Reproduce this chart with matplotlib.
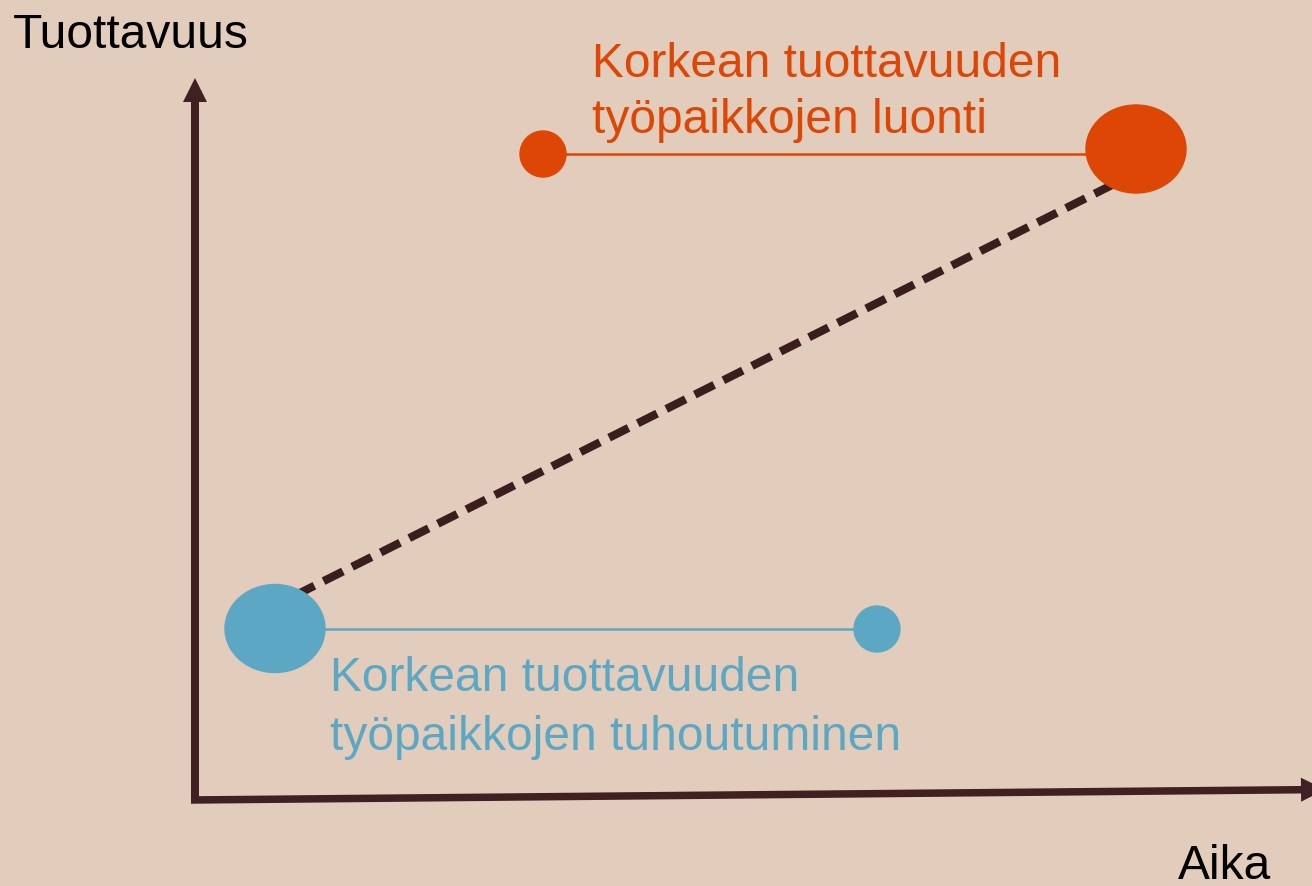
import matplotlib.pyplot as plt
from matplotlib.patches import Ellipse

plt.rcParams['font.family'] = ['Liberation Sans', 'DejaVu Sans']

# diagram data (time, productivity) in axis units, origin at axis corner
tuhoutuminen_x = [0.80, 6.82]      # big blob -> small dot
tuhoutuminen_y = [1.715, 1.71]
luonti_x = [3.48, 9.41]            # small dot -> big blob
luonti_y = [6.46, 6.51]
trendi_x = [1.0, 9.25]
trendi_y = [2.045, 6.19]
iso_koko = (1.0, 0.88)
pieni_koko = 0.46

bg = '#E2CDBC'
akseli = '#402022'
sininen = '#5CA8C4'
oranssi = '#DD4604'

fig = plt.figure(figsize=(13.12, 8.86), dpi=100, facecolor=bg)
ax = fig.add_axes([0, 0, 1, 1])
ax.set_facecolor(bg)
ax.set_xlim(-1.95, 11.17)
ax.set_ylim(-0.86, 8.0)
ax.axis('off')

# axes arrows
ax.arrow(0, -0.02, 0, 7.24, width=0.08, head_width=0.24, head_length=0.24,
         length_includes_head=True, color=akseli, lw=0)
ax.arrow(-0.04, 0, 11.34, 0.105, width=0.075, head_width=0.24, head_length=0.24,
         length_includes_head=True, color=akseli, lw=0)

# dashed trend
ax.plot(trendi_x, trendi_y, color='#3A1E1E', lw=5.9, ls=(0, (2.65, 1.25)),
        solid_capstyle='butt', dash_capstyle='butt', zorder=2)

# thin connectors
ax.plot(tuhoutuminen_x, [tuhoutuminen_y[1]] * 2, color=sininen, lw=1.8, zorder=2)
ax.plot(luonti_x, [luonti_y[0]] * 2, color=oranssi, lw=1.8, zorder=2)

# blobs
ax.add_patch(Ellipse((tuhoutuminen_x[0], tuhoutuminen_y[0]), *iso_koko, color=sininen, zorder=3))
ax.add_patch(Ellipse((tuhoutuminen_x[1], tuhoutuminen_y[1]), pieni_koko, pieni_koko, color=sininen, zorder=3))
ax.add_patch(Ellipse((luonti_x[0], luonti_y[0]), pieni_koko, pieni_koko, color=oranssi, zorder=3))
ax.add_patch(Ellipse((luonti_x[1], luonti_y[1]), *iso_koko, color=oranssi, zorder=3))

fs = 34.5
ax.text(-1.82, 7.52, 'Tuottavuus', fontsize=fs, color='black', va='baseline')
ax.text(9.83, -0.79, 'Aika', fontsize=fs, color='black', va='baseline')
ax.text(3.97, 7.23, 'Korkean tuottavuuden', fontsize=fs, color=oranssi, va='baseline')
ax.text(3.97, 6.67, 'työpaikkojen luonti', fontsize=fs, color=oranssi, va='baseline')
ax.text(1.35, 1.09, 'Korkean tuottavuuden', fontsize=fs, color=sininen, va='baseline')
ax.text(1.35, 0.50, 'työpaikkojen tuhoutuminen', fontsize=fs, color=sininen, va='baseline')

fig.savefig('out.png', dpi=100, facecolor=bg)
